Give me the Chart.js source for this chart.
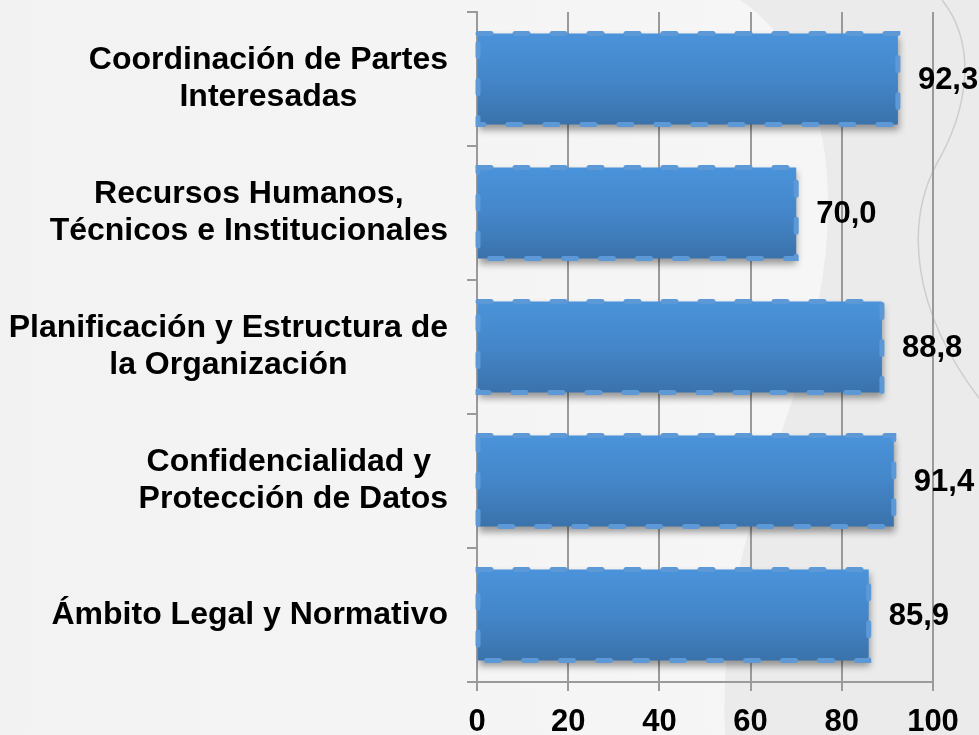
<!DOCTYPE html>
<html><head><meta charset="utf-8">
<script src="https://cdn.jsdelivr.net/npm/chart.js@4.4.0/dist/chart.umd.min.js"></script>
<style>html,body{margin:0;padding:0;background:#F3F3F3;overflow:hidden}#wrap{width:979px;height:735px;position:relative}</style>
</head><body><div id="wrap"><canvas id="c"></canvas></div>
<script>
const categories = [
  ["Coordinación de Partes", "Interesadas"],
  ["Recursos Humanos,", "Técnicos e Institucionales"],
  ["Planificación y Estructura de", "la Organización"],
  ["Confidencialidad y ", "Protección de Datos"],
  ["Ámbito Legal y Normativo"]
];
const values = [92.3, 70.0, 88.8, 91.4, 85.9];
const xTicks = [0, 20, 40, 60, 80, 100];

const FONT = '"Liberation Sans", Arial, sans-serif';
const BAR_PCT = 0.68;
const fmt = v => v.toFixed(1).replace('.', ',');

const bgPlugin = {
  id: 'bg',
  beforeDraw(chart) {
    const c = chart.ctx, W = chart.width, H = chart.height;
    c.save();
    const lg = c.createLinearGradient(0, 0, 760, 0);
    lg.addColorStop(0, '#F2F2F2');
    lg.addColorStop(1, '#F6F6F6');
    c.fillStyle = lg;
    c.fillRect(0, 0, W, H);
    // darker right region
    c.beginPath();
    c.moveTo(740, 0);
    c.bezierCurveTo(830, 60, 850, 200, 805, 360);
    c.bezierCurveTo(770, 480, 720, 560, 725, 735);
    c.lineTo(W, H);
    c.lineTo(W, 0);
    c.closePath();
    c.fillStyle = '#EBEBEB';
    c.fill();
    // thin curve at right
    c.beginPath();
    c.moveTo(942, 0);
    c.bezierCurveTo(978, 45, 968, 110, 936, 165);
    c.bezierCurveTo(905, 225, 912, 310, 979, 398);
    c.strokeStyle = '#CDCDCD';
    c.lineWidth = 1.5;
    c.stroke();
    c.restore();
  }
};

const shadowPlugin = {
  id: 'barShadow',
  beforeDatasetDraw(chart) {
    const c = chart.ctx;
    c.save();
    c.shadowColor = 'rgba(0,0,0,0.38)';
    c.shadowBlur = 7;
    c.shadowOffsetX = 1;
    c.shadowOffsetY = 5;
  },
  afterDatasetDraw(chart) { chart.ctx.restore(); }
};

const decoPlugin = {
  id: 'deco',
  afterDatasetsDraw(chart) {
    const c = chart.ctx;
    const meta = chart.getDatasetMeta(0);
    meta.data.forEach((el, i) => {
      const p = el.getProps(['x', 'y', 'base', 'height'], true);
      const top = p.y - p.height / 2;
      c.save();
      c.strokeStyle = '#5D99D6';
      c.lineWidth = 5;
      c.lineCap = 'round';
      c.setLineDash([13, 24]);
      c.strokeRect(p.base, top, p.x - p.base, p.height);
      c.restore();
      c.save();
      c.font = 'bold 31px ' + FONT;
      c.fillStyle = '#000';
      c.textAlign = 'left';
      c.textBaseline = 'middle';
      c.fillText(fmt(values[i]), p.x + 20, p.y + 1);
      c.restore();
    });
    // category labels: block right-aligned, lines centred within block
    const ys = chart.scales.y;
    c.save();
    c.font = 'bold 32px ' + FONT;
    c.fillStyle = '#000';
    c.textAlign = 'center';
    c.textBaseline = 'middle';
    categories.forEach((lines, i) => {
      const cy = ys.getPixelForValue(i);
      const w = Math.max(...lines.map(l => c.measureText(l).width));
      const cx = ys.right - 29 - w / 2;
      lines.forEach((l, j) => c.fillText(l, cx, cy + (j - (lines.length - 1) / 2) * 37));
    });
    c.restore();
  }
};

new Chart(document.getElementById('c'), {
  type: 'bar',
  data: {
    labels: categories,
    datasets: [{
      data: values,
      barPercentage: BAR_PCT,
      categoryPercentage: 1,
      borderWidth: 0,
      backgroundColor(ctx) {
        const chart = ctx.chart, y = chart.scales.y;
        if (!y || ctx.type !== 'data' || !y.height) return '#4585C8';
        const cy = y.getPixelForValue(ctx.dataIndex);
        const h = (y.height / categories.length) * BAR_PCT;
        const g = chart.ctx.createLinearGradient(0, cy - h / 2, 0, cy + h / 2);
        g.addColorStop(0, '#4A93DA');
        g.addColorStop(0.5, '#4486C9');
        g.addColorStop(1, '#3A72AB');
        return g;
      }
    }]
  },
  options: {
    indexAxis: 'y',
    responsive: true,
    maintainAspectRatio: false,
    devicePixelRatio: 1,
    animation: false,
    layout: { padding: { left: 0, top: 12, right: 46, bottom: 0 } },
    plugins: { legend: { display: false }, tooltip: { enabled: false } },
    scales: {
      x: {
        type: 'linear', position: 'bottom', min: 0, max: 100,
        afterBuildTicks(s) { s.ticks = xTicks.map(v => ({ value: v })); },
        afterFit(s) { s.height = 53; },
        ticks: { color: '#000', padding: 13, font: { family: FONT, size: 31, weight: 'bold' } },
        grid: { color: '#9A9A9A', lineWidth: 2, tickLength: 9, drawTicks: true },
        border: { display: true, color: '#9A9A9A', width: 2 }
      },
      y: {
        type: 'category', position: 'left',
        afterFit(s) { s.width = 477; },
        ticks: { display: false },
        grid: { display: true, drawOnChartArea: false, drawTicks: true, tickLength: 10, offset: true, color: '#9A9A9A', lineWidth: 2 },
        border: { display: true, color: '#9A9A9A', width: 2 }
      }
    }
  },
  plugins: [bgPlugin, shadowPlugin, decoPlugin]
});
</script></body></html>
